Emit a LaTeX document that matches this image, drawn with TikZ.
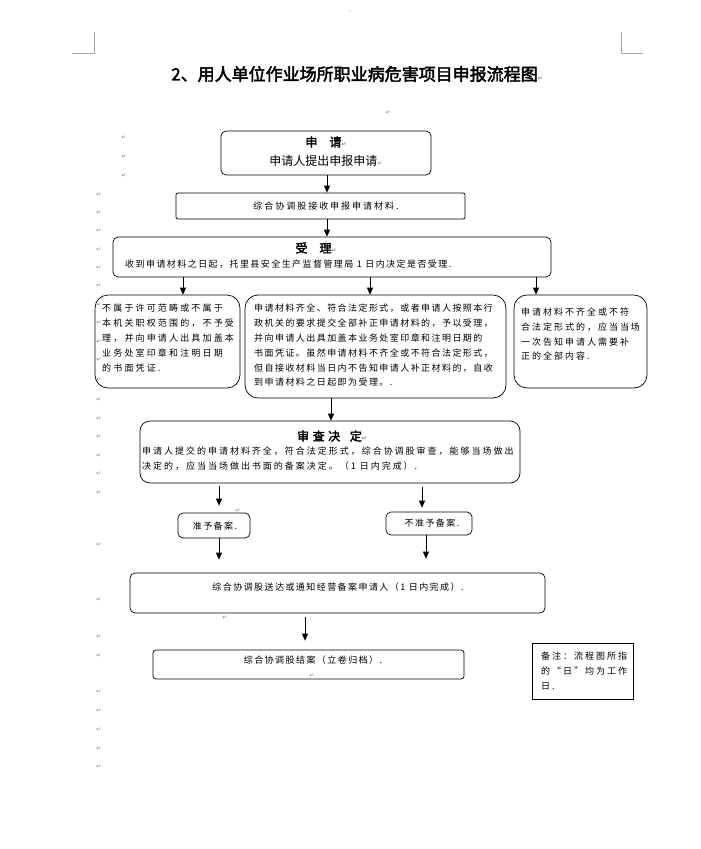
\documentclass[tikz,border=0pt]{standalone}
\usepackage{fontspec}
\usetikzlibrary{arrows.meta}
\newfontfamily\cjk[AutoFakeBold=2.5]{Noto Sans CJK SC}
\newfontfamily\cjkA[LetterSpace=24]{Noto Sans CJK SC}
\newfontfamily\cjkB[LetterSpace=22]{Noto Sans CJK SC}
\newfontfamily\cjkC[LetterSpace=16]{Noto Sans CJK SC}
\newfontfamily\djv{DejaVu Sans}
\newcommand{\pmk}{{\color{gray}\djv\fontsize{6}{6}\selectfont ↵}}
\begin{document}
\begin{tikzpicture}[x=1pt,y=-1pt,
  box/.style={draw, line width=0.7pt, rounded corners=5pt, inner sep=0pt},
  bigbox/.style={box, rounded corners=13pt},
  arr/.style={line width=0.8pt, -{Triangle[length=7pt,width=6pt]}},
  pm/.style={text=gray, font=\djv\fontsize{6}{6}\selectfont, inner sep=0pt},
  crop/.style={draw=gray!70, line width=0.5pt},
  para/.style={inner sep=0pt, anchor=north west, align=left},
  ctr/.style={inner sep=0pt, anchor=center}
]
\useasboundingbox (0,0) rectangle (701,849);
\fill[white] (0,0) rectangle (701,849);

% crop marks
\draw[crop] (94,32) -- (94,53) -- (72,53);
\draw[crop] (621,32) -- (621,53) -- (643,53);

% title
\node[ctr, font=\cjk\bfseries\fontsize{17}{17}\selectfont] (title) at (357,74) {2、用人单位作业场所职业病危害项目申报流程图\pmk};
\node[pm] (p0) at (388,113) {↵};

% boxes
\node[box, minimum width=210pt, minimum height=44pt] (b1) at (326,153) {};
\node[box, rounded corners=2pt, minimum width=289pt, minimum height=26pt] (b2) at (320.5,206) {};
\node[box, minimum width=438pt, minimum height=40pt] (b3) at (332,257) {};
\node[bigbox, minimum width=145pt, minimum height=93pt] (b4) at (167.5,341.5) {};
\node[bigbox, minimum width=261pt, minimum height=103pt] (b5) at (375.5,346.5) {};
\node[bigbox, minimum width=133pt, minimum height=93pt] (b6) at (580.5,341.5) {};
\node[bigbox, rounded corners=10pt, minimum width=380pt, minimum height=62pt] (b7) at (330,452) {};
\node[box, minimum width=72pt, minimum height=25pt] (b8) at (214,525.5) {};
\node[box, minimum width=86pt, minimum height=23pt] (b9) at (429,523.5) {};
\node[box, minimum width=415pt, minimum height=40pt] (b10) at (337.5,593) {};
\node[box, rounded corners=3pt, minimum width=311pt, minimum height=29pt] (b11) at (308.5,664.5) {};
\node[draw, line width=0.7pt, inner sep=0pt, minimum width=101pt, minimum height=56pt] (note) at (582.5,671) {};

% texts
\node[ctr, font=\cjk\bfseries\fontsize{12}{12}\selectfont] (t1a) at (326,142) {申\hspace{1em}请\pmk};
\node[ctr, font=\cjk\fontsize{12}{12}\selectfont] (t1b) at (326,161) {申请人提出申报申请\pmk};
\node[ctr, font=\cjkB\fontsize{9}{9}\selectfont] (t2) at (326,206) {综合协调股接收申报申请材料.};
\node[ctr, font=\cjk\bfseries\fontsize{12}{12}\selectfont] (t3a) at (316,248) {受\hspace{1em}理\pmk};
\node[para, font=\cjkC\fontsize{9}{15}\selectfont] (t3b) at (125,260) {收到申请材料之日起，托里县安全生产监督管理局 1 日内决定是否受理.};
\node[para, font=\cjkA\fontsize{9}{15}\selectfont] (t4) at (102,304) {不属于许可范畴或不属于\\本机关职权范围的，不予受\\理，并向申请人出具加盖本\\业务处室印章和注明日期\\的书面凭证.};
\node[para, font=\cjkC\fontsize{9}{14.8}\selectfont] (t5) at (254,304) {申请材料齐全、符合法定形式，或者申请人按照本行\\政机关的要求提交全部补正申请材料的，予以受理，\\并向申请人出具加盖本业务处室印章和注明日期的\\书面凭证。虽然申请材料不齐全或不符合法定形式，\\但自接收材料当日内不告知申请人补正材料的，自收\\到申请材料之日起即为受理。.};
\node[para, font=\cjkB\fontsize{9}{14.7}\selectfont] (t6) at (521,308) {申请材料不齐全或不符\\合法定形式的，应当当场\\一次告知申请人需要补\\正的全部内容.};
\node[ctr, font=\cjk\bfseries\fontsize{12}{12}\selectfont] (t7a) at (332,436) {审\hspace{0.3em}查\hspace{0.3em}决\hspace{0.8em}定\pmk};
\node[para, font=\cjkB\fontsize{9}{14.5}\selectfont] (t7b) at (142,447) {申请人提交的申请材料齐全，符合法定形式，综合协调股审查，能够当场做出\\决定的，应当当场做出书面的备案决定。（1 日内完成）.};
\node[ctr, font=\cjkC\fontsize{9}{9}\selectfont] (t8) at (215,526) {准予备案.};
\node[ctr, font=\cjkC\fontsize{9}{9}\selectfont] (t9) at (432,523) {不准予备案.};
\node[ctr, font=\cjkC\fontsize{9}{9}\selectfont] (t10) at (338,587) {综合协调股送达或通知经营备案申请人（1 日内完成）.};
\node[ctr, font=\cjkC\fontsize{9}{9}\selectfont] (t11) at (313,660) {综合协调股结案（立卷归档）.};
\node[para, font=\cjkB\fontsize{9}{15}\selectfont] (tn) at (541,652) {备注：流程图所指\\的“日”均为工作\\日.};

% connectors
\draw[arr] (b1.south -| 327,0) -- (b2.north -| 327,0);
\draw[arr] (b2.south -| 327,0) -- (b3.north -| 327,0);
\draw[arr] (b3.south -| 183,0) -- (b4.north -| 183,0);
\draw[arr] (b3.south -| 370,0) -- (b5.north -| 370,0);
\draw[arr] (b3.south -| 536,0) -- (b6.north -| 536,0);
\draw[arr] (b5.south -| 331,0) -- (b7.north -| 331,0);
\draw[arr, shorten <=3pt, shorten >=7pt] (b7.south -| 219,0) -- (b8.north -| 219,0);
\draw[arr, shorten <=4pt, shorten >=4pt] (b7.south -| 422,0) -- (b9.north -| 422,0);
\draw[arr, shorten >=13pt] (b8.south -| 219,0) -- (b10.north -| 219,0);
\draw[arr, shorten >=14pt] (b9.south -| 426,0) -- (b10.north -| 426,0);
\draw[arr, shorten <=4pt, shorten >=9pt] (b10.south -| 305,0) -- (b11.north -| 305,0);

% paragraph marks
\foreach \yy [count=\i] in {138,157,176} \node[pm] (pa\i) at (124,\yy) {↵};
\foreach \yy [count=\i] in {195,213,231,250,268,286,305,323,342,360,380,400,419,437,456,474,493,545,600,637,656,692,711,730,749,767}
  \node[pm] (pb\i) at (99,\yy) {↵};
\node[pm] (pc1) at (238,511) {↵};
\node[pm] (pc2) at (225,618) {↵};
\node[pm] (pc3) at (312,676) {↵};
\node[text=gray, inner sep=0pt, font=\djv\fontsize{5}{5}\selectfont] (topmk) at (350,11) {·:·};
\end{tikzpicture}
\end{document}
